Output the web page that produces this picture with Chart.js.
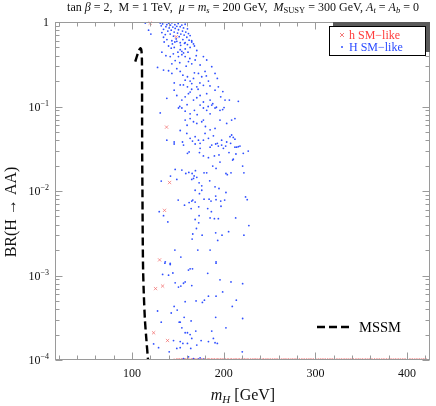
<!DOCTYPE html>
<html>
<head>
<meta charset="utf-8">
<script src="https://cdn.jsdelivr.net/npm/chart.js@4.4.0/dist/chart.umd.min.js"></script>
<style>
    html, body { margin: 0; padding: 0; background: #fff; }
    #wrap { width: 436px; height: 406px; }
</style>
</head>
<body>
<div id="wrap"><canvas id="brChart" width="436" height="406"></canvas></div>
<script>
// =================== data =======================
const xRange = [17, 425];
const yRange = [1e-4, 1];
const xMajorTicks = [100, 200, 300, 400];
const xTickLabels = ['100', '200', '300', '400'];
const yMajorTicks = [1e-4, 1e-3, 1e-2, 1e-1, 1];
const yTickLabels = [['10', '\u22124'], ['10', '\u22123'], ['10', '\u22122'], ['10', '\u22121'], ['1', '']];

// H SM-like points [mH, BR]
const HsmLike = [
    [130.7,0.97],[131.8,0.9],[133.3,0.95],[134.3,0.82],[135.8,0.99],[136.9,0.88],[137.9,0.93],[139,0.78],
    [139.8,0.97],[140.5,0.85],[141.6,0.72],[141.9,0.92],[142.7,0.8],[143.4,0.98],[144.5,0.87],[145.2,0.68],
    [145.9,0.76],[146.7,0.93],[147,0.84],[148.1,0.63],[148.8,0.89],[149.6,0.74],[150.3,0.96],[150.6,0.81],
    [151.4,0.67],[152.5,0.88],[153.2,0.72],[154.3,0.92],[155,0.78],[155.4,0.62],[156.1,0.85],[156.8,0.7],
    [157.9,0.94],[158.6,0.76],[159.7,0.66],[160.4,0.83],[161.5,0.73],[162.2,0.61],[163.3,0.69],[132.5,0.75],
    [134.3,0.66],[136.2,0.71],[138,0.62],[143.4,0.6],[146.7,0.58],[152.5,0.57],[157.2,0.56],[165.1,0.58],
    [118,0.8],[114.4,0.97],[120.5,0.72],
    [139.8,0.52],[142.7,0.49],[148.8,0.59],[152.5,0.47],[154.3,0.45],[156.1,0.43],[157.9,0.57],[160.4,0.54],
    [163.3,0.5],[167,0.55],[170.6,0.46],[146,0.5],[150,0.44],[158,0.48],[161,0.44],[165,0.6],[168,0.52],
    [135,0.58],[144,0.55],[153,0.53],
    [132.5,0.44],[136.9,0.4],[141.6,0.39],[143.4,0.32],[147,0.35],[150.6,0.39],[154.3,0.41],[157.9,0.39],
    [161.5,0.34],[165.1,0.32],[168.8,0.355],[174.2,0.31],[177.8,0.39],[181.4,0.355],[127.8,0.29],[152,0.33],
    [159,0.3],[170,0.4],[163,0.37],[145,0.42],
    [134.3,0.27],[139.8,0.265],[143.4,0.246],[148.8,0.28],[152.5,0.26],[155.4,0.235],[157.9,0.205],[160.4,0.225],
    [163.3,0.2],[167,0.215],[172.4,0.246],[176,0.225],[179.6,0.26],[183.3,0.2],[186.9,0.296],[190.5,0.246],
    [193,0.215],[152.5,0.18],[160.4,0.171],[165.1,0.187],[170.6,0.171],[177.8,0.178],[146,0.19],[156,0.18],
    [174,0.19],[185,0.175],[168,0.25],[181,0.23],
    [137.9,0.125],[145.9,0.156],[148.8,0.135],[154.3,0.119],[157.9,0.13],[161.5,0.142],[163.3,0.148],[167,0.119],
    [170.6,0.127],[174.2,0.135],[177.8,0.113],[181.4,0.142],[185.1,0.119],[190.5,0.156],[194.1,0.171],[196.7,0.13],
    [201.4,0.119],[206.1,0.119],[215.9,0.115],[130.7,0.084],[152,0.1],[160,0.105],[172,0.16],[188,0.108],
    [199,0.15],[165,0.16],[183,0.1],
    [150.6,0.096],[154.3,0.096],[157.9,0.088],[163.3,0.082],[168,0.09],[174.2,0.104],[177.8,0.096],[181.4,0.09],
    [185.1,0.082],[186.9,0.104],[190.5,0.096],[192,0.098],[195.9,0.09],[198.8,0.092],[200.3,0.097],[157.9,0.069],
    [163.3,0.072],[167,0.066],[170.6,0.063],[176,0.066],[177.8,0.069],[185.1,0.053],[190.5,0.055],[195.9,0.069],
    [203.2,0.063],[208.6,0.069],[212.2,0.072],[171,0.08],[160,0.06],[180,0.058],
    [152.5,0.052],[159.7,0.048],[163.3,0.042],[168.8,0.044],[172.4,0.04],[179.6,0.048],[183.3,0.042],[188.7,0.045],
    [194.1,0.034],[197.7,0.035],[199.6,0.032],[203.2,0.038],[206.8,0.044],[208.6,0.046],[210.4,0.043],[212.2,0.041],
    [214,0.033],[217.7,0.034],[137.9,0.04],[145.9,0.036],[156.1,0.035],[174.2,0.032],[186.9,0.035],
    [145.9,0.038],[155,0.038],[165.9,0.039],[168.8,0.036],[174.2,0.0367],[177.8,0.04],[185.1,0.033],[191.2,0.036],
    [193,0.0367],[197.7,0.04],[202.1,0.034],[207.5,0.0367],[212.2,0.033],[215.9,0.0335],[160.4,0.0279],[162.2,0.029],
    [173.5,0.0285],[177.8,0.026],[183.3,0.0248],[189.8,0.026],[194.8,0.0267],[195.9,0.022],[205.7,0.0285],[209.7,0.0232],
    [210.4,0.0238],[213.3,0.0274],[221.3,0.0279],[226.7,0.0297],[220.6,0.0197],[147,0.018],[154.3,0.0177],[158.6,0.0161],
    [161.9,0.0166],[165.5,0.0161],[167.7,0.0151],[169.1,0.0174],[165.1,0.0137],[167,0.0141],[170.6,0.0145],[173.1,0.0125],
    [176,0.0115],[178.5,0.0164],[181.4,0.0164],[184.7,0.0132],[188,0.0197],[191.6,0.0185],[202.4,0.0161],[203.9,0.0156],
    [207.9,0.0164],[222,0.0164],[131.8,0.0131],[141.9,0.015],[148.8,0.0137],[190.5,0.0112],[194.8,0.0107],[202.4,0.0096],
    [168.8,0.0102],[173.5,0.0093],[176,0.0102],[150.3,0.0078],[157.2,0.0068],[162.2,0.0073],[165.1,0.0076],[168.8,0.0074],
    [166.2,0.0078],[178.5,0.008],[184,0.008],[186.1,0.0076],[191.2,0.0087],[191.6,0.0079],[196.7,0.0076],[201,0.0078],
    [197,0.0066],[223.8,0.0085],[225.6,0.0079],[129.6,0.0057],[134.3,0.0051],[139,0.0043],[164.4,0.0062],[172.7,0.0065],
    [182.5,0.0062],[186.5,0.0057],[173.1,0.0051],[168.8,0.0046],[172.7,0.0042],[185.1,0.0048],[189.8,0.0047],[194.1,0.0047],
    [213,0.0048],[227.4,0.0039],[170.2,0.0036],[166.2,0.0031],[165.5,0.0027],[176.4,0.003],[191.2,0.0032],[198.1,0.003],
    [205.3,0.0033],[222,0.003],[193.4,0.0026],[146.7,0.002],[171.7,0.002],[185.1,0.002],[153.2,0.00165],[135.8,0.0014],
    [141.6,0.00135],[165.9,0.0012],[191.6,0.0014],
    [136.2,0.00145],[141.6,0.00139],[161.5,0.00116],[163.3,0.0012],[182.5,0.00106],[191.6,0.00145],[133.3,0.00103],[139.8,0.00101],
    [144.5,0.00107],[147,0.00082],[150.6,0.00073],[153.2,0.00075],[156.1,0.00081],[157.9,0.00084],[165.1,0.00076],[195.9,0.00089],
    [207.9,0.00084],[220.6,0.0008],[183.3,0.00057],[178.9,0.00051],[176.7,0.00048],[169.8,0.0005],[157.9,0.00049],[191.6,0.00057],
    [198.8,0.00064],[209.3,0.00043],[213.7,0.00051],[220.6,0.00031],[127.8,0.00038],[131.8,0.00028],[142.7,0.00036],[145.9,0.00043],
    [149.2,0.00039],[151.4,0.00028],[152.5,0.00028],[156.8,0.00032],[164.4,0.00029],[154.3,0.00024],[157.9,0.00021],[160.4,0.00021],
    [163.3,0.0002],[169.5,0.00022],[186.9,0.00022],[191.2,0.00032],[202.4,0.00024],[123.5,0.000155],[128.9,0.00014],[145.2,0.00017],
    [152.5,0.000165],[155.4,0.000157],[160.4,0.000157],[165.1,0.00018],[170.6,0.00015],[175.3,0.00017],[183.3,0.000165],[188.7,0.00018],
    [190.5,0.00016],[193,0.000157],[140.5,0.000125],[148.8,0.000137],[152.5,0.00014],[164,0.000137],[161.5,0.000109],[167,0.000104],
    [172.4,0.000102],[174.2,0.000106],[177.8,0.000102],[220.2,0.000125],[156.1,0.000104]
];

// h SM-like points [mH, BR]
const hsmLike = [
    [119.8,0.97],[148.1,0.67],[137.6,0.057],[140.9,0.0126],[135.4,0.0059],[130,0.00153],
    [133.3,0.00075],[125.6,0.0007],[123.5,0.00021],[138.7,0.00017]
];
// h SM-like points sitting on the lower edge (BR = 1e-4)
const hsmFloorMass = [
    147.5,150,151.8,153,155.5,157,158.4,160,162.6,164,166.5,168,170.2,172.5,174,176.8,178,180.5,182,184.6,
    186,188.3,190.7,192,194.5,196.2,198,200.4,203,205.5,207,209.8,212,214.3,216,218.7,221,223.5,225,228,
    230.6,233,235.2,237,240.4,242,244.8,247,249.5,252,254.6,257,259.3,262,264.4,267,269,271.8,274,276.5,
    279,281.2,284,286.5,289,291.7,294,296.3,299,302,304.5,307,309.4,312,314.8,317,319.5,322,325,327.3,
    330,332.6,335,337.4,340,343,345.5,348,350.2,353,355.7,358,360.4,363,366,368.2,371,373.5,376,378.8,
    381,384,386.3,389,391.5,394,396.6,399,402,404.3,407,409.5,412,414.6,417,419.5
];

// MSSM curve [mH, BR]
const mssmCurve = [
    [103.5,0.34],[105.5,0.40],[107.5,0.46],[109,0.49],[110.3,0.45],[110.8,0.3],[110.9,0.1],[111,0.03],
    [111.3,0.01],[111.6,0.003],[112,0.0012],[112.8,0.0006],[114,0.0003],[115.5,0.00018],[117.4,0.0001]
];
// =================== END DATA ===================

const serif = '"Liberation Serif", "DejaVu Serif", serif';

function toPoints(arr) {
    return arr.map(p => ({ x: p[0], y: p[1] }));
}

function drawRuns(ctx, runs, x, y, align) {
    let total = 0;
    runs.forEach(r => { ctx.font = r[1]; r.w = ctx.measureText(r[0]).width; total += r.w; });
    let cx = align === 'center' ? x - total / 2 : (align === 'right' ? x - total : x);
    ctx.textAlign = 'left';
    runs.forEach(r => { ctx.font = r[1]; ctx.fillText(r[0], cx, y + (r[2] || 0)); cx += r.w; });
}

const framePlugin = {
    id: 'mmaFrame',
    afterDatasetsDraw(chart) {
        const ctx = chart.ctx;
        const a = chart.chartArea;
        const xs = chart.scales.x, ys = chart.scales.y;
        const L = Math.round(a.left) - 0.5, R = Math.round(a.right) - 0.5;
        const T = Math.round(a.top) + 0.5, B = Math.round(a.bottom) - 0.5;
        ctx.save();
        ctx.textBaseline = 'alphabetic';

        // frame + inward ticks
        ctx.strokeStyle = '#9a9a9a';
        ctx.lineWidth = 1;
        ctx.strokeRect(L, T, R - L, B - T);
        ctx.beginPath();
        for (let v = 20; v <= 420; v += 20) {
            const px = Math.round(xs.getPixelForValue(v)) + 0.5;
            const len = xMajorTicks.includes(v) ? 7 : 4;
            ctx.moveTo(px, B); ctx.lineTo(px, B - len);
            ctx.moveTo(px, T); ctx.lineTo(px, T + len);
        }
        for (let k = -4; k <= 0; k++) {
            for (let m = 1; m <= 9; m++) {
                const v = m * Math.pow(10, k);
                if (v > 1.0001) break;
                const py = Math.round(ys.getPixelForValue(v)) + 0.5;
                const len = m === 1 ? 7 : 4;
                ctx.moveTo(L, py); ctx.lineTo(L + len, py);
                ctx.moveTo(R, py); ctx.lineTo(R - len, py);
            }
        }
        ctx.stroke();

        // tick labels
        ctx.fillStyle = '#111';
        xMajorTicks.forEach((v, i) => {
            ctx.font = '12px ' + serif;
            ctx.textAlign = 'center';
            ctx.fillText(xTickLabels[i], xs.getPixelForValue(v), 377);
        });
        yMajorTicks.forEach((v, i) => {
            const py = ys.getPixelForValue(v);
            const lab = yTickLabels[i];
            ctx.textAlign = 'right';
            if (lab[1] === '') {
                ctx.font = '12px ' + serif;
                ctx.fillText(lab[0], 49, py + 4);
            } else {
                ctx.font = '8px ' + serif;
                ctx.fillText(lab[1], 49, py - 1);
                const sw = ctx.measureText(lab[1]).width;
                ctx.font = '12px ' + serif;
                ctx.fillText(lab[0], 49 - sw, py + 4);
            }
        });

        // title
        const N = '12px ' + serif, I = 'italic 12px ' + serif;
        const S = '8.5px ' + serif, SI = 'italic 8.5px ' + serif;
        drawRuns(ctx, [
            ['tan ', N], ['\u03b2', I], [' = 2,  M = 1 TeV,  ', N], ['\u03bc', I], [' = ', N],
            ['m', I], ['s', SI, 2], [' = 200 GeV,  ', N], ['M', I], ['SUSY', S, 2],
            [' = 300 GeV, ', N], ['A', I], ['t', SI, 2], [' = ', N], ['A', I], ['b', SI, 2], [' = 0', N]
        ], 243, 11, 'center');

        // axis titles
        drawRuns(ctx, [['m', 'italic 16px ' + serif], ['H', 'italic 11px ' + serif, 3], [' [GeV]', '16px ' + serif]],
            (a.left + a.right) / 2, 400, 'center');
        ctx.save();
        ctx.translate(16, 212);
        ctx.rotate(-Math.PI / 2);
        ctx.font = '16px ' + serif;
        ctx.textAlign = 'center';
        ctx.fillText('BR(H \u2192 AA)', 0, 0);
        ctx.restore();

        // legend box with shadow
        ctx.fillStyle = '#5a5a5a';
        ctx.fillRect(333, 22, 97, 30);
        ctx.fillStyle = '#fff';
        ctx.fillRect(329, 26, 97, 30);
        ctx.strokeStyle = '#000';
        ctx.strokeRect(329.5, 26.5, 96, 29);
        // red cross
        ctx.strokeStyle = 'rgba(240,90,90,0.8)';
        ctx.beginPath();
        ctx.moveTo(340, 33); ctx.lineTo(344, 37);
        ctx.moveTo(344, 33); ctx.lineTo(340, 37);
        ctx.stroke();
        ctx.fillStyle = '#3050ff';
        ctx.beginPath();
        ctx.arc(342, 47, 1, 0, Math.PI * 2);
        ctx.fill();
        ctx.font = '12px ' + serif;
        ctx.textAlign = 'left';
        ctx.fillStyle = '#ff3c3c';
        ctx.fillText('h SM\u2212like', 349, 39);
        ctx.fillStyle = '#2b4bff';
        ctx.fillText('H SM\u2212like', 349, 51);

        // MSSM key
        ctx.strokeStyle = '#000';
        ctx.lineWidth = 2.4;
        ctx.setLineDash([8, 4]);
        ctx.beginPath();
        ctx.moveTo(317, 327); ctx.lineTo(350, 327);
        ctx.stroke();
        ctx.setLineDash([]);
        ctx.fillStyle = '#000';
        ctx.font = '14.5px ' + serif;
        ctx.fillText('MSSM', 359, 332);
        ctx.restore();
    }
};

function brChart() {
    const ctx = document.getElementById('brChart');
    const myChart = new Chart(ctx, {
        type: 'scatter',
        data: {
            datasets: [
                {
                    label: 'MSSM',
                    data: toPoints(mssmCurve),
                    showLine: true,
                    borderColor: '#000',
                    borderWidth: 2.4,
                    borderDash: [8, 4],
                    pointRadius: 0,
                    tension: 0.3,
                    order: 1
                },
                {
                    label: 'H SM-like',
                    data: toPoints(HsmLike),
                    pointStyle: 'circle',
                    pointRadius: 0.9,
                    backgroundColor: '#3050ff',
                    borderWidth: 0,
                    order: 2
                },
                {
                    label: 'h SM-like',
                    data: toPoints(hsmLike).concat(hsmFloorMass.map(m => ({ x: m, y: 1e-4 }))),
                    pointStyle: 'crossRot',
                    pointRadius: 2.3,
                    borderColor: 'rgba(240,90,90,0.7)',
                    borderWidth: 0.9,
                    clip: { left: 5, top: 5, right: 5, bottom: 0 },
                    order: 3
                }
            ]
        },
        options: {
            responsive: false,
            animation: false,
            layout: { padding: { left: 56, top: 22, right: 6, bottom: 46 } },
            plugins: {
                legend: { display: false },
                title: { display: false },
                tooltip: { enabled: false }
            },
            scales: {
                x: { type: 'linear', min: xRange[0], max: xRange[1], display: false },
                y: { type: 'logarithmic', min: yRange[0], max: yRange[1], display: false }
            }
        },
        plugins: [framePlugin]
    });
    return myChart;
}

brChart();
</script>
</body>
</html>
